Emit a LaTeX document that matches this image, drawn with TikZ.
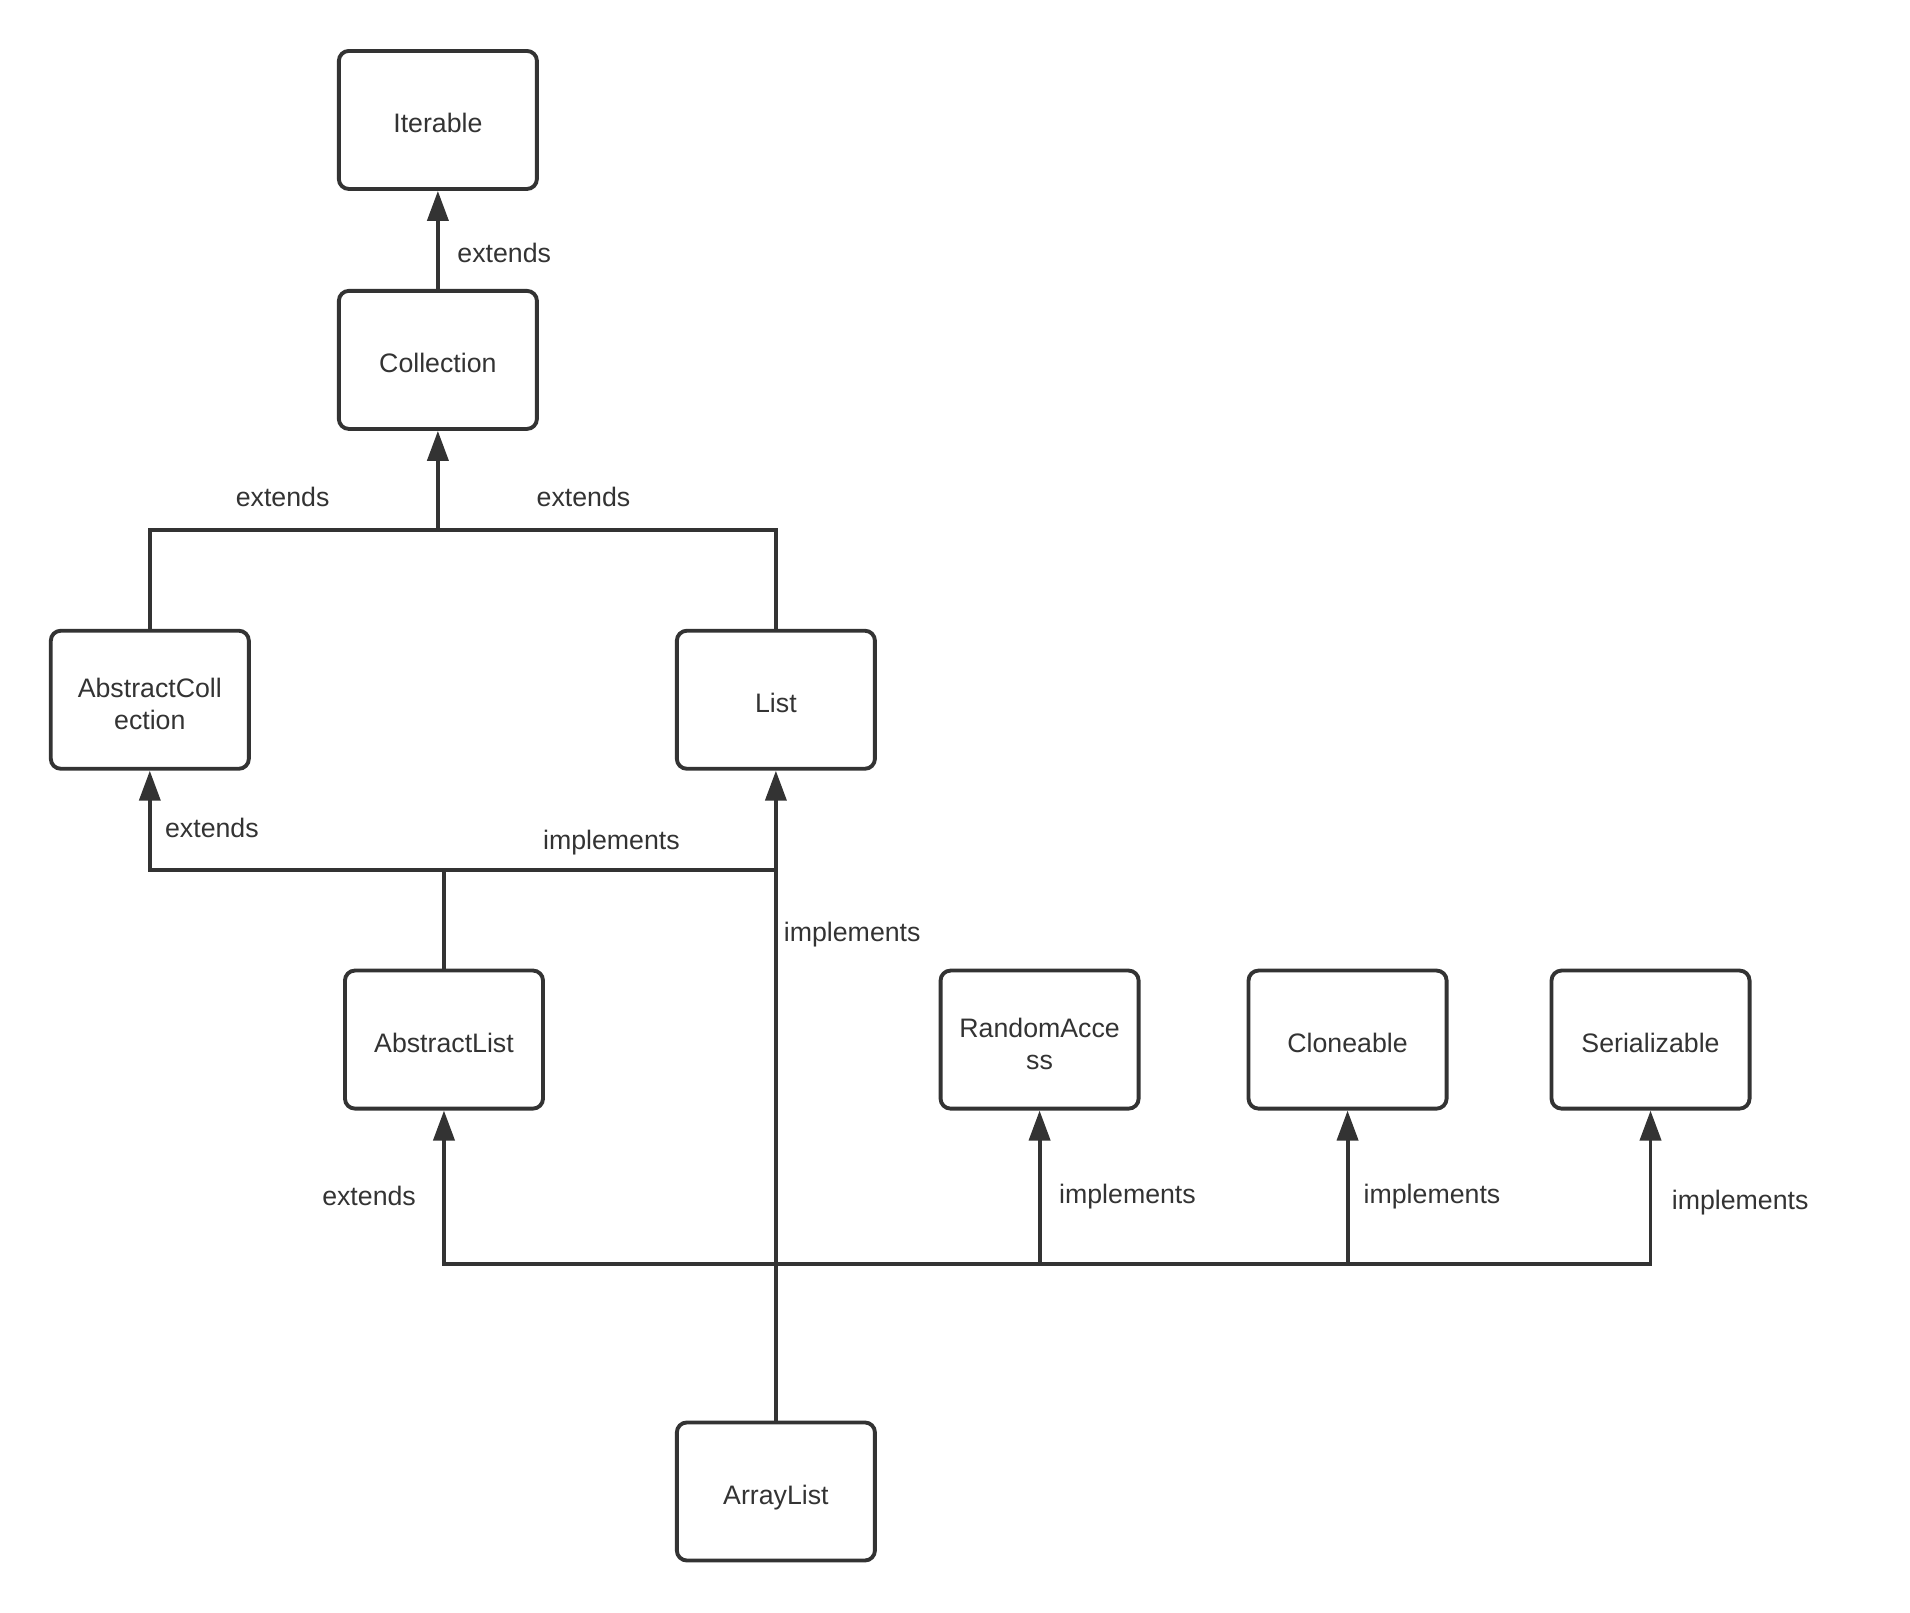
\documentclass[tikz,border=0pt]{standalone}
\usepackage{fontspec}
\setmainfont{Liberation Sans}
\usepackage{xcolor}
\usepackage{tikz}
\usetikzlibrary{positioning,arrows.meta}
\definecolor{ink}{HTML}{333333}

\begin{document}
\begin{tikzpicture}[
  x=0.01218cm, y=-0.01218cm,
  node distance=1.06cm,
  classbox/.style={rectangle, draw=ink, line width=1.1pt, rounded corners=1mm, text=ink, align=center, minimum width=1.98cm, minimum height=1.38cm, text height=8.8pt, text depth=1.6pt, font=\fontsize{7.6}{9.2}\selectfont},
  twoline/.style={text height=18.7pt},
  arrow/.style={-{Triangle[length=3mm, width=2.1mm]}, draw=ink, line width=1.1pt},
  line/.style={draw=ink, line width=1.1pt},
  lbl/.style={inner sep=0pt, text=ink, font=\fontsize{7.6}{9.2}\selectfont}
]
\useasboundingbox (0,0) rectangle (1568.1,1323.5);
\node[classbox] (iterable) at (359.5,98.5) {Iterable};
\node[classbox] (collection) at (359.5,295.5) {Collection};
\node[classbox, twoline] (abscoll) at (123,574.5) {AbstractColl\\ection};
\node[classbox] (list) at (637,574.5) {List};
\node[classbox] (abslist) at (364.5,853.5) {AbstractList};
\node[classbox, twoline] (randacc) at (853.5,853.5) {RandomAcce\\ss};
\node[classbox, right=of randacc] (cloneable) {Cloneable};
\node[classbox, right=1.01cm of cloneable] (serial) {Serializable};
\node[classbox] (arraylist) at (637,1224.5) {ArrayList};
\coordinate (bustop) at (359.5,435);
\coordinate (busmid) at (364.5,714);
\coordinate (buslow) at (637,1038);
% Collection -> Iterable
\draw[arrow] (collection) -- (iterable);
\node[lbl, anchor=west] (extIter) at (375,208) {extends};
% AbstractCollection, List -> Collection
\draw[line] (abscoll.north) |- (bustop) -| (list.north);
\draw[arrow] (bustop) -- (collection.south);
\node[lbl] (extColl) at (232,408) {extends};
\node[lbl] (extList) at (479,408) {extends};
% AbstractList -> AbstractCollection, List
\draw[line] (abslist.north) -- (busmid);
\draw[arrow] (busmid) -| (abscoll.south);
\draw[line] (busmid) -- (busmid -| list.south);
\node[lbl, anchor=west] (extAbsColl) at (135,680) {extends};
\node[lbl] (implList) at (502,692) {implements};
% ArrayList -> List
\draw[arrow] (arraylist.north) -- (list.south);
\node[lbl, anchor=west] (implArr) at (643,767) {implements};
% ArrayList -> AbstractList and the interfaces
\draw[arrow] (buslow) -| (abslist.south);
\draw[arrow] (buslow) -| (randacc.south);
\draw[arrow] (buslow) -| (cloneable.south);
\draw[arrow] (buslow) -| (serial.south);
\node[lbl] (extAbsList) at (303,982) {extends};
\node[lbl, anchor=west] (implRand) at (869,982) {implements};
\node[lbl, anchor=west] (implClone) at (1119,982) {implements};
\node[lbl, anchor=west] (implSer) at (1372,987) {implements};
\end{tikzpicture}
\end{document}
